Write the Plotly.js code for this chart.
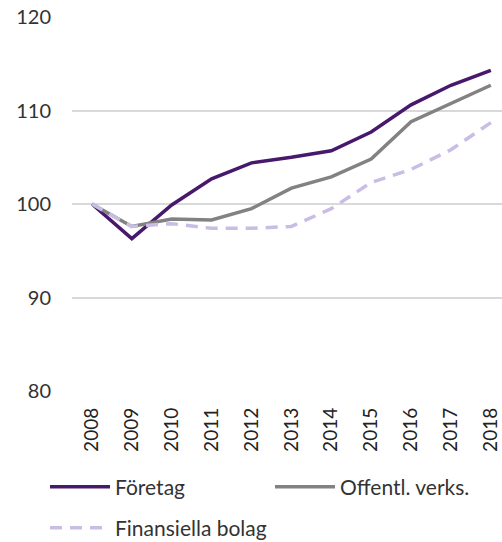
<!DOCTYPE html>
<html><head><meta charset="utf-8">
<script src="https://cdn.plot.ly/plotly-3.0.1.min.js"></script>
<style>body{margin:0;background:#fff}#c{width:502px;height:542px}</style>
</head><body><div id="c"></div>
<script>
const years = ["2008","2009","2010","2011","2012","2013","2014","2015","2016","2017","2018"];
const foretag = [100, 96.3, 99.9, 102.7, 104.4, 105.0, 105.7, 107.7, 110.6, 112.7, 114.3];
const offentl = [100, 97.6, 98.4, 98.3, 99.5, 101.7, 102.9, 104.8, 108.8, 110.8, 112.7];
const finans = [100, 97.6, 97.9, 97.4, 97.4, 97.6, 99.5, 102.3, 103.7, 105.8, 108.7];
const names = ["Företag", "Offentl. verks.", "Finansiella bolag"];
const yTicks = [80, 90, 100, 110, 120];

const F = "Lato, 'Liberation Sans', sans-serif";
const traces = [
  {x: years, y: foretag, name: names[0], type: "scatter", mode: "lines",
   line: {color: "#47186b", width: 3.5}, legend: "legend"},
  {x: years, y: offentl, name: names[1], type: "scatter", mode: "lines",
   line: {color: "#828282", width: 3.5}, legend: "legend2"},
  {x: years, y: finans, name: names[2], type: "scatter", mode: "lines",
   line: {color: "#c9bde6", width: 3.5, dash: "12px,8px"}, legend: "legend3"}
];
const H = 542, W = 502;
const legBase = {orientation: "h", xref: "container", yref: "container",
  xanchor: "left", yanchor: "middle", itemwidth: 60, bgcolor: "rgba(0,0,0,0)",
  font: {size: 21, color: "#333"}, traceorder: "normal"};
const layout = {
  width: W, height: H,
  margin: {l: 72, r: 0, t: 17, b: 151},
  paper_bgcolor: "#fff", plot_bgcolor: "#fff",
  showlegend: true,
  font: {family: F, color: "#333", size: 19},
  xaxis: {type: "category", range: [-0.5, 10.28], showgrid: false, zeroline: false,
    showline: false, ticks: "", tickangle: -90, tickfont: {size: 19, color: "#222"},
    ticklabelstandoff: 12},
  yaxis: {range: [80, 120], tickvals: yTicks, showgrid: true, gridcolor: "#d9d9d9",
    gridwidth: 2, zeroline: false, showline: false, ticks: "",
    tickfont: {size: 20, color: "#333"}, ticklabelstandoff: 20},
  legend: Object.assign({}, legBase, {x: 45 / W, y: 1 - 487 / H}),
  legend2: Object.assign({}, legBase, {x: 270 / W, y: 1 - 487 / H}),
  legend3: Object.assign({}, legBase, {x: 45 / W, y: 1 - 528 / H})
};
Plotly.newPlot("c", traces, layout, {displayModeBar: false, staticPlot: true});
</script></body></html>
